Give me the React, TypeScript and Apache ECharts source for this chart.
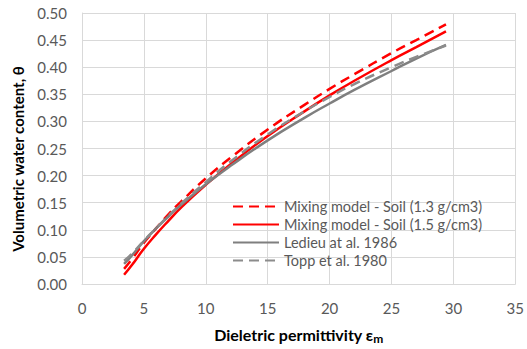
import React, { useEffect, useRef } from "react";
import * as echarts from "echarts";

const eps = [3.4, 4, 5, 6, 7, 8, 10, 12, 15, 18, 20, 22, 25, 27, 29.4];
const mix13 = [0.028, 0.045, 0.076, 0.103, 0.129, 0.152, 0.195, 0.233, 0.285, 0.331, 0.36, 0.387, 0.426, 0.45, 0.479];
const mix15 = [0.017, 0.034, 0.065, 0.092, 0.117, 0.141, 0.183, 0.221, 0.273, 0.319, 0.348, 0.375, 0.413, 0.437, 0.466];
const ledieu = [0.037, 0.052, 0.079, 0.103, 0.125, 0.146, 0.184, 0.218, 0.265, 0.307, 0.333, 0.358, 0.393, 0.416, 0.441];
const topp = [0.043, 0.055, 0.08, 0.103, 0.126, 0.148, 0.188, 0.226, 0.276, 0.319, 0.345, 0.369, 0.4, 0.419, 0.44];
const seriesNames = [
  "Mixing model - Soil (1.3 g/cm3)",
  "Mixing model - Soil (1.5 g/cm3)",
  "Ledieu at al. 1986",
  "Topp et al. 1980",
];

const FONT = "Lato";

export default function App() {
  const ref = useRef<HTMLDivElement>(null);
  useEffect(() => {
    if (!ref.current) return;
    const chart = echarts.init(ref.current, undefined, { renderer: "svg" });
    const pts = (ys: number[]) => eps.map((x, i) => [x, ys[i]]);
    const mk = (name: string, ys: number[], color: string, type: any) => ({
      name,
      type: "line",
      data: pts(ys),
      smooth: true,
      showSymbol: false,
      symbol: "none",
      lineStyle: { color, width: 2.5, type },
      itemStyle: { color },
    });
    chart.setOption({
      animation: false,
      grid: { left: 82, right: 7, top: 13, bottom: 61 },
      xAxis: {
        type: "value",
        min: 0,
        max: 35,
        interval: 5,
        axisLine: { lineStyle: { color: "#d9d9d9" } },
        axisTick: { show: false },
        splitLine: { lineStyle: { color: "#d9d9d9" } },
        axisLabel: { color: "#595959", fontFamily: FONT, fontSize: 15, margin: 16 },
        name: "{a|Dieletric permittivity ε}{s|m}",
        nameLocation: "middle",
        nameGap: 40,
        nameTextStyle: {
          rich: {
            a: { fontFamily: FONT, fontWeight: "bold", fontSize: 16, color: "#000" },
            s: { fontFamily: FONT, fontWeight: "bold", fontSize: 12, color: "#000", padding: [8, 0, 0, 0] },
          },
        },
      },
      yAxis: {
        type: "value",
        min: 0,
        max: 0.5,
        interval: 0.05,
        axisLine: { show: true, lineStyle: { color: "#d9d9d9" } },
        axisTick: { show: false },
        splitLine: { lineStyle: { color: "#d9d9d9" } },
        axisLabel: {
          color: "#595959",
          fontFamily: FONT,
          fontSize: 15,
          margin: 15,
          formatter: (v: number) => v.toFixed(2),
        },
      },
      legend: {
        orient: "vertical",
        left: 227,
        top: 194,
        itemWidth: 46,
        itemHeight: 14,
        itemGap: 3,
        itemStyle: { opacity: 0 },
        textStyle: { color: "#595959", fontFamily: FONT, fontSize: 14.5 },
        data: seriesNames,
      },
      graphic: [
        {
          type: "text",
          x: 18,
          y: 159,
          rotation: Math.PI / 2,
          style: {
            text: "Volumetric water content, θ",
            font: `bold 15px ${FONT}`,
            fill: "#000",
            align: "center",
            verticalAlign: "middle",
          },
        },
      ],
      series: [
        mk(seriesNames[0], mix13, "#ff0000", [10, 6]),
        mk(seriesNames[1], mix15, "#ff0000", "solid"),
        mk(seriesNames[2], ledieu, "#7f7f7f", "solid"),
        mk(seriesNames[3], topp, "#8c8c8c", [10, 6]),
      ],
    });
    return () => chart.dispose();
  }, []);
  return (
    <div
      ref={ref}
      style={{ position: "absolute", left: 0, top: 0, width: 527, height: 349, background: "#fff" }}
    />
  );
}
